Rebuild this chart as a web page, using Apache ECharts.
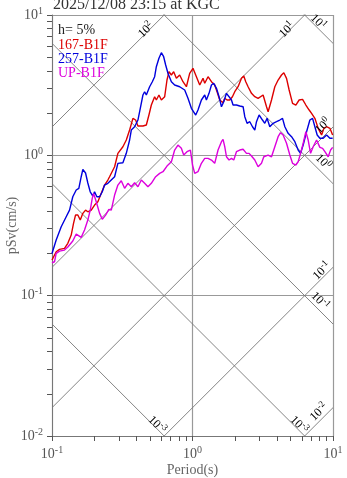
<!DOCTYPE html>
<html>
<head>
<meta charset="utf-8">
<title>pSv spectrum KGC</title>
<script src="https://cdn.jsdelivr.net/npm/echarts@6/dist/echarts.min.js"></script>
<style>
  html, body { margin: 0; padding: 0; background: #fff; }
  #chart { width: 347px; height: 478px; }
</style>
</head>
<body>
<div id="chart"></div>
<script>
// 167-B1F (red)
const period167 = [0.100, 0.1071, 0.1131, 0.1227, 0.1296, 0.1370, 0.1423, 0.1470, 0.1527, 0.1589,
  0.1658, 0.1733, 0.1799, 0.1903, 0.2009, 0.2121, 0.2242, 0.2367, 0.2498, 0.2569,
  0.2790, 0.2944, 0.3196, 0.3379, 0.3568, 0.3766, 0.3937, 0.4089, 0.4438, 0.4692,
  0.4897, 0.5094, 0.5377, 0.5529, 0.5770, 0.6002, 0.6339, 0.6583, 0.6803, 0.7074,
  0.7345, 0.7678, 0.8105, 0.8556, 0.9048, 0.955, 1.008, 1.066, 1.126, 1.188,
  1.222, 1.290, 1.364, 1.439, 1.495, 1.563, 1.650, 1.696, 1.762, 1.841,
  1.924, 1.999, 2.110, 2.232, 2.317, 2.394, 2.487, 2.630, 2.776, 2.930,
  3.181, 3.364, 3.453, 3.651, 3.854, 4.068, 4.301, 4.467, 4.669, 4.873,
  5.153, 5.439, 5.742, 6.072, 6.410, 6.767, 7.039, 7.430, 7.845, 8.296,
  8.615, 9.003, 9.506, 9.94]
const sv167 = [0.1794, 0.2055, 0.2138, 0.2174, 0.2359, 0.2704, 0.3276, 0.3753, 0.3753, 0.3458,
  0.3859, 0.407, 0.3962, 0.407, 0.4422, 0.4670, 0.536, 0.614, 0.667, 0.704,
  0.829, 1.033, 1.152, 1.286, 1.514, 1.835, 1.785, 1.617, 1.617, 1.644,
  1.938, 2.283, 2.617, 2.479, 2.691, 2.479, 2.617, 3.441, 3.944, 3.736,
  3.944, 3.538, 3.736, 3.346, 3.083, 3.842, 4.169, 3.633, 3.171, 3.538,
  3.261, 3.633, 3.346, 3.171, 2.840, 2.479, 2.371, 2.549, 2.479, 2.479,
  2.617, 2.840, 3.083, 3.538, 3.675, 3.346, 3.083, 2.766, 2.617, 2.549,
  2.691, 2.220, 2.046, 2.479, 3.083, 3.441, 3.736, 3.879, 3.538, 2.921,
  2.348, 2.283, 2.479, 2.507, 2.283, 2.103, 1.992, 1.835, 1.557, 1.395,
  1.557, 1.599, 1.557, 1.395]

// 257-B1F (blue)
const period257 = [0.100, 0.1071, 0.1163, 0.1262, 0.1333, 0.1406, 0.1487, 0.1552, 0.1614, 0.1658,
  0.1733, 0.1799, 0.1871, 0.1953, 0.2009, 0.2086, 0.2182, 0.2279, 0.2367, 0.2498,
  0.2569, 0.2790, 0.2944, 0.3196, 0.3379, 0.3568, 0.3668, 0.3873, 0.4089, 0.4274,
  0.4438, 0.4563, 0.4692, 0.4817, 0.4953, 0.5178, 0.5377, 0.5529, 0.5770, 0.6002,
  0.6233, 0.6442, 0.6689, 0.7074, 0.7465, 0.8105, 0.8800, 0.9288, 0.982, 1.054,
  1.094, 1.157, 1.222, 1.256, 1.311, 1.364, 1.416, 1.481, 1.545, 1.607,
  1.669, 1.745, 1.820, 1.894, 1.944, 2.055, 2.170, 2.291, 2.356, 2.446,
  2.557, 2.673, 2.776, 2.854, 2.979, 3.149, 3.270, 3.396, 3.549, 3.748,
  3.963, 4.183, 4.373, 4.542, 4.794, 5.069, 5.351, 5.649, 5.876, 6.133,
  6.485, 6.846, 7.155, 7.430, 7.716, 8.066, 8.515, 9.003, 9.506, 9.94]
const sv257 = [0.200, 0.249, 0.310, 0.365, 0.407, 0.507, 0.566, 0.582, 0.704, 0.795,
  0.748, 0.635, 0.550, 0.513, 0.550, 0.507, 0.507, 0.550, 0.614, 0.632,
  0.648, 0.704, 0.877, 0.886, 1.033, 1.286, 1.514, 1.599, 1.785, 2.220,
  2.691, 2.840, 2.691, 2.766, 3.083, 3.346, 3.633, 4.280, 4.914, 5.387,
  5.044, 4.402, 3.842, 3.346, 3.171, 3.083, 2.921, 2.549, 2.163, 1.938,
  2.103, 2.479, 2.691, 2.479, 2.766, 3.171, 3.261, 3.003, 2.617, 2.220,
  2.410, 2.766, 2.617, 2.479, 2.283, 2.283, 2.246, 2.220, 1.884, 1.691,
  1.736, 1.599, 1.514, 1.736, 1.938, 1.785, 1.691, 1.835, 1.599, 1.691,
  1.736, 1.785, 1.835, 1.599, 1.435, 1.357, 1.250, 1.091, 1.033, 1.184,
  1.473, 1.785, 1.835, 1.599, 1.395, 1.322, 1.322, 1.395, 1.322, 1.322]

// UP-B1F (magenta)
const periodUP = [0.100, 0.1042, 0.1071, 0.1131, 0.1227, 0.1296, 0.1406, 0.1487, 0.1527, 0.1614,
  0.1704, 0.1799, 0.1871, 0.1934, 0.1976, 0.2065, 0.2182, 0.2279, 0.2406, 0.2540,
  0.2642, 0.2790, 0.2944, 0.3112, 0.3287, 0.3470, 0.3668, 0.3873, 0.4089, 0.4323,
  0.4563, 0.4817, 0.5094, 0.5466, 0.5837, 0.6163, 0.6583, 0.7074, 0.7465, 0.788,
  0.833, 0.866, 0.914, 0.966, 1.000, 1.037, 1.094, 1.157, 1.222, 1.290,
  1.364, 1.439, 1.520, 1.607, 1.650, 1.696, 1.745, 1.820, 1.894, 1.967,
  2.055, 2.170, 2.291, 2.422, 2.527, 2.630, 2.776, 2.930, 3.098, 3.217,
  3.453, 3.651, 3.854, 4.068, 4.232, 4.417, 4.669, 4.929, 5.153, 5.439,
  5.649, 5.876, 6.133, 6.410, 6.658, 6.925, 7.226, 7.641, 8.066, 8.432,
  8.757, 9.244, 9.614, 9.94]
const svUP = [0.1716, 0.1744, 0.200, 0.2078, 0.2113, 0.2220, 0.2450, 0.2748, 0.2660, 0.2603,
  0.2935, 0.3458, 0.407, 0.4937, 0.536, 0.467, 0.3859, 0.3499, 0.3753, 0.4122,
  0.407, 0.521, 0.614, 0.659, 0.582, 0.632, 0.597, 0.638, 0.597, 0.667,
  0.632, 0.597, 0.632, 0.704, 0.744, 0.764, 0.839, 0.900, 1.091, 1.184,
  1.122, 1.005, 1.061, 1.091, 0.853, 0.744, 0.764, 0.877, 0.952, 0.952,
  0.926, 0.877, 1.091, 1.250, 1.300, 1.152, 0.977, 0.926, 0.952, 0.926,
  1.061, 1.091, 1.104, 1.033, 1.033, 0.989, 0.926, 0.829, 0.877, 0.977,
  1.005, 0.977, 1.152, 1.357, 1.449, 1.395, 1.218, 1.005, 0.877, 0.853,
  0.900, 1.033, 1.218, 1.473, 1.286, 1.033, 1.152, 1.286, 1.140, 1.122,
  1.061, 0.977, 1.091, 1.140]

// tripartite guide levels: displacement (cm), acceleration (cm/s2)
const dispLevels = [0.001, 0.01, 0.1, 1, 10]
const accLevels = [0.01, 0.1, 1, 10, 100]

// axis ticks (decades plus 2..9)
const xTicks = [0.1, 0.2, 0.3, 0.4, 0.5, 0.6, 0.7, 0.8, 0.9, 1, 2, 3, 4, 5, 6, 7, 8, 9, 10]
const yTicks = [0.01, 0.02, 0.03, 0.04, 0.05, 0.06, 0.07, 0.08, 0.09,
  0.1, 0.2, 0.3, 0.4, 0.5, 0.6, 0.7, 0.8, 0.9, 1, 2, 3, 4, 5, 6, 7, 8, 9, 10]

const X_MIN = 0.1, X_MAX = 10, Y_MIN = 0.01, Y_MAX = 10

const FONT = "'Liberation Serif', 'Times New Roman', serif"
const TWO_PI = 2 * Math.PI
const guideT = [X_MIN, X_MAX]

const zip = (xs, ys) => xs.map((x, i) => [x, ys[i]])

const pow10 = (v) => {
  const e = Math.round(Math.log10(v))
  return '{b|10}{s|' + e + '}'
}

const supRich = (size, color) => ({
  b: { fontFamily: FONT, fontSize: size, color: color },
  s: { fontFamily: FONT, fontSize: Math.round(size * 0.72), color: color, padding: [0, 0, Math.round(size * 0.55), 0] }
})

// guide lines
const guideSeries = []
dispLevels.forEach(d => {
  guideSeries.push({
    type: 'line', symbol: 'none', silent: true, clip: true, z: 1,
    lineStyle: { color: '#777', width: 0.9 },
    data: guideT.map(t => [t, TWO_PI * d / t])
  })
})
accLevels.forEach(a => {
  guideSeries.push({
    type: 'line', symbol: 'none', silent: true, clip: true, z: 1,
    lineStyle: { color: '#777', width: 0.9 },
    data: guideT.map(t => [t, a * t / TWO_PI])
  })
})

// labels on the guide lines (pixel placement)
const guideLabels = [
  { text: pow10(100), x: 146, y: 30, up: true },
  { text: pow10(10), x: 287, y: 30, up: true },
  { text: pow10(10), x: 318, y: 22, up: false },
  { text: pow10(1), x: 323, y: 126, up: true },
  { text: pow10(1), x: 323, y: 162, up: false },
  { text: pow10(0.1), x: 322, y: 271, up: true },
  { text: pow10(0.1), x: 320, y: 301, up: false },
  { text: pow10(0.001), x: 157, y: 425, up: false },
  { text: pow10(0.001), x: 299, y: 425, up: false },
  { text: pow10(0.01), x: 319, y: 412, up: true }
]

const legendItems = [
  { text: 'h= 5%', color: '#222', y: 30 },
  { text: '167-B1F', color: '#dd0000', y: 45 },
  { text: '257-B1F', color: '#0000dd', y: 59 },
  { text: 'UP-B1F', color: '#dd00dd', y: 73 }
]

const chart = echarts.init(document.getElementById('chart'))

const graphics = [
  {
    type: 'text', left: 53, top: -3, z: 10,
    style: { text: '2025/12/08 23:15 at KGC', fontFamily: FONT, fontSize: 16, fill: '#333' }
  }
]
legendItems.forEach(item => {
  graphics.push({
    type: 'text', x: 58, y: item.y, z: 10,
    style: { text: item.text, fontFamily: FONT, fontSize: 14, fill: item.color, align: 'left', verticalAlign: 'middle' }
  })
})
guideLabels.forEach(l => {
  graphics.push({
    type: 'text', x: l.x, y: l.y, rotation: l.up ? Math.PI / 4 : -Math.PI / 4, z: 5,
    style: { text: l.text, rich: supRich(12, '#666'), align: 'center', verticalAlign: 'middle' }
  })
})

// hidden axes only used for the decade grid lines
const gridAxis = {
  type: 'log', logBase: 10,
  axisLine: { show: false }, axisTick: { show: false }, axisLabel: { show: false },
  splitLine: { show: true, lineStyle: { color: '#999', width: 1.2 } }
}

const tickStyle = { show: true, inside: false, length: 5, lineStyle: { color: '#555', width: 1 } }

const option = {
  animation: false,
  backgroundColor: '#fff',
  grid: { left: 52, right: 14, top: 15, bottom: 42, containLabel: false, outerBoundsMode: 'none' },
  xAxis: [
    {
      type: 'log', logBase: 10, min: X_MIN, max: X_MAX,
      name: 'Period(s)', nameLocation: 'middle', nameGap: 27, nameMoveOverlap: false,
      nameTextStyle: { fontFamily: FONT, fontSize: 14, color: '#666' },
      axisLine: { lineStyle: { color: '#777', width: 1 } },
      axisTick: Object.assign({ customValues: xTicks }, tickStyle),
      axisLabel: { margin: 9, formatter: pow10, rich: supRich(14, '#555') },
      splitLine: { show: false }
    },
    Object.assign({ min: X_MIN, max: X_MAX, position: 'top' }, gridAxis)
  ],
  yAxis: [
    {
      type: 'log', logBase: 10, min: Y_MIN, max: Y_MAX,
      name: 'pSv(cm/s)', nameLocation: 'middle', nameGap: 33, nameMoveOverlap: false,
      nameTextStyle: { fontFamily: FONT, fontSize: 14, color: '#666' },
      axisLine: { lineStyle: { color: '#777', width: 1 } },
      axisTick: Object.assign({ customValues: yTicks }, tickStyle),
      axisLabel: { margin: 9, formatter: pow10, rich: supRich(14, '#555') },
      splitLine: { show: false }
    },
    Object.assign({ min: Y_MIN, max: Y_MAX, position: 'right' }, gridAxis)
  ],
  graphic: graphics,
  series: guideSeries.concat([
    {
      name: '167-B1F', type: 'line', symbol: 'none', clip: true, z: 3,
      lineStyle: { color: '#dd0000', width: 1.4 },
      data: zip(period167, sv167)
    },
    {
      name: '257-B1F', type: 'line', symbol: 'none', clip: true, z: 3,
      lineStyle: { color: '#0000dd', width: 1.4 },
      data: zip(period257, sv257)
    },
    {
      name: 'UP-B1F', type: 'line', symbol: 'none', clip: true, z: 3,
      lineStyle: { color: '#dd00dd', width: 1.4 },
      data: zip(periodUP, svUP)
    }
  ])
}

chart.setOption(option)
</script>
</body>
</html>
